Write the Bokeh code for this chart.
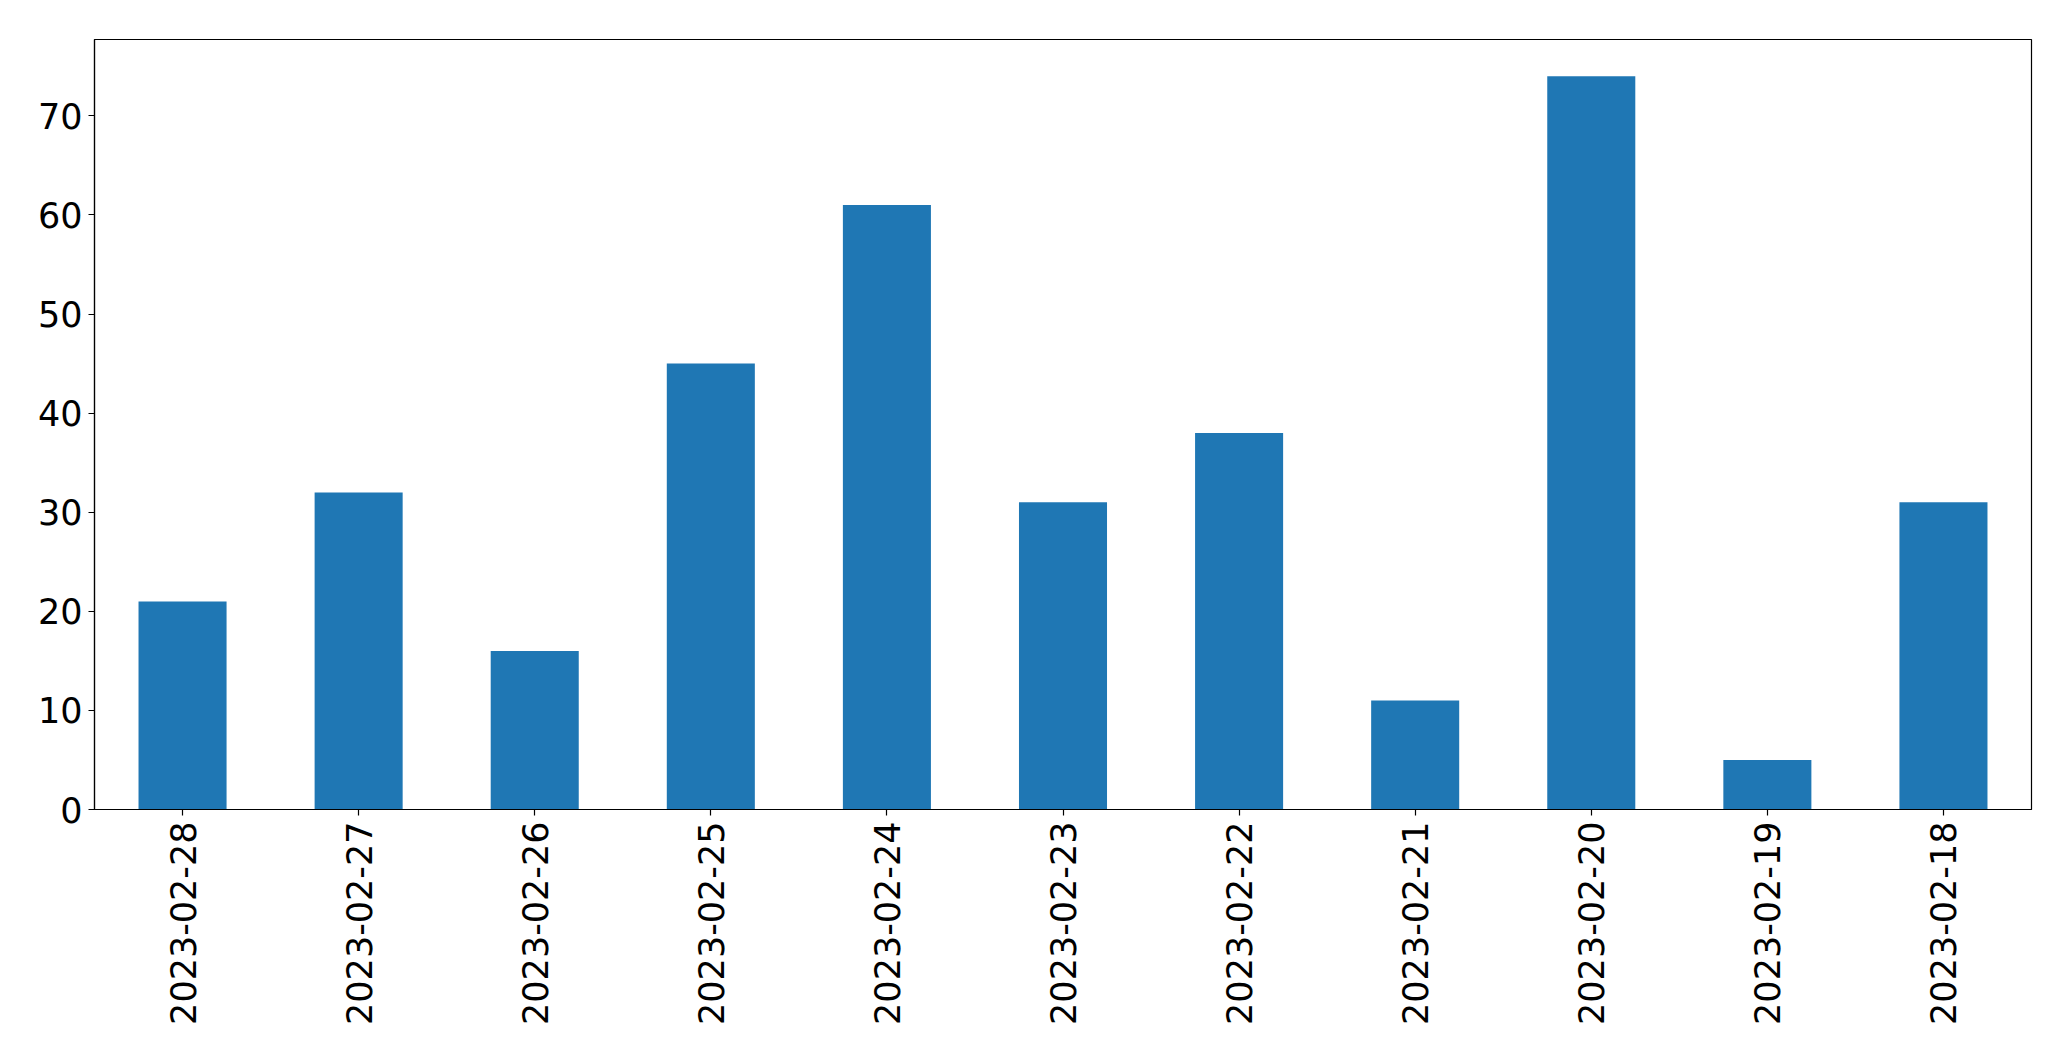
import math
from bokeh.plotting import figure
from bokeh.models import FactorRange, Range1d, FixedTicker
from bokeh.embed import file_html
from bokeh.resources import INLINE

dates = ["2023-02-28", "2023-02-27", "2023-02-26", "2023-02-25", "2023-02-24",
         "2023-02-23", "2023-02-22", "2023-02-21", "2023-02-20", "2023-02-19",
         "2023-02-18"]
counts = [21, 32, 16, 45, 61, 31, 38, 11, 74, 5, 31]
y_ticks = [0, 10, 20, 30, 40, 50, 60, 70]

p = figure(x_range=FactorRange(factors=dates, range_padding=0),
           y_range=Range1d(0, max(counts) * 1.05),
           frame_width=1937, frame_height=770,
           min_border_left=94, min_border_top=39, min_border_right=20,
           output_backend="svg", toolbar_location=None)

p.vbar(x=dates, top=counts, width=0.5, color="#1f77b4", line_color=None)

p.xgrid.visible = False
p.ygrid.visible = False
p.outline_line_color = "black"
p.outline_line_width = 1.2

for ax in (p.xaxis, p.yaxis):
    ax.axis_line_color = "black"
    ax.axis_line_width = 1.2
    ax.major_tick_line_color = "black"
    ax.major_tick_line_width = 1.2
    ax.major_tick_out = 6
    ax.major_tick_in = 0
    ax.minor_tick_line_color = None
    ax.major_label_text_font = "DejaVu Sans"
    ax.major_label_text_font_size = "35px"
    ax.major_label_text_color = "black"
    ax.major_label_standoff = 6

p.yaxis.ticker = FixedTicker(ticks=y_ticks)
p.xaxis.major_label_orientation = math.pi / 2

open("out.html", "w").write(file_html(p, INLINE))
